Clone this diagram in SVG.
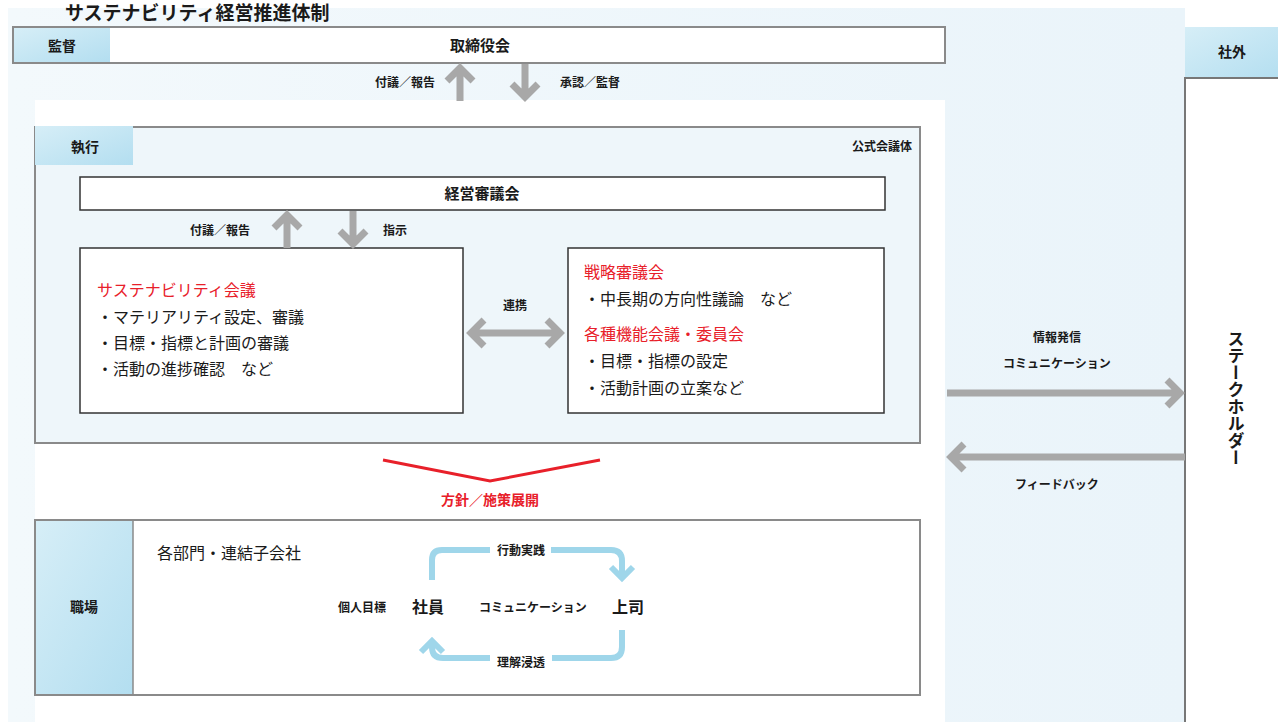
<svg xmlns="http://www.w3.org/2000/svg" width="1278" height="722" viewBox="0 0 1278 722">
<style>
text{font-family:"Noto Sans CJK JP","Noto Sans CJK SC",sans-serif;fill:#1a1a1a}
.b{font-weight:bold}
.s{font-size:12px}
.m{font-size:16px}
.r{fill:#e8202a}
.box{fill:#fff;stroke:#333;stroke-width:1.5}
.frame{stroke:#8a8a8a;stroke-width:2}
.ga{fill:none;stroke:#a8a8a8;stroke-width:7}
.ca{fill:none;stroke:#9fd6ea;stroke-width:6}
</style>
<defs>
<linearGradient id="lab" x1="0" y1="0" x2="1" y2="1">
<stop offset="0" stop-color="#d6eef7"/>
<stop offset="1" stop-color="#b3def0"/>
</linearGradient>
<linearGradient id="pan" x1="0" y1="0" x2="1" y2="0">
<stop offset="0" stop-color="#f3f9fc"/>
<stop offset="1" stop-color="#eaf4fa"/>
</linearGradient>
</defs>
<rect width="1278" height="722" fill="#fff"/>
<rect x="8" y="8" width="1177" height="714" fill="url(#pan)"/>
<rect x="35" y="100" width="910" height="622" fill="#fff"/>
<text x="65" y="20" class="b" font-size="19">サステナビリティ経営推進体制</text>

<g id="kantoku">
<rect x="13" y="27" width="932" height="36" class="frame" fill="#fff"/>
<rect x="14" y="28" width="96" height="34" fill="url(#lab)"/>
<text x="62" y="51" class="b" font-size="14" text-anchor="middle">監督</text>
<text x="480" y="51" class="b" font-size="15" text-anchor="middle">取締役会</text>
</g>

<g id="shagai">
<rect x="1185" y="27" width="100" height="51" fill="url(#lab)"/>
<text x="1232" y="57" class="b" font-size="14" text-anchor="middle">社外</text>
<rect x="1185" y="78" width="100" height="650" fill="#fff" stroke="#777" stroke-width="2"/>
<text class="b" font-size="17" x="1236" y="330" style="writing-mode:vertical-rl;text-orientation:upright">ステークホルダー</text>
</g>

<g id="shikko">
<rect x="35" y="127" width="885" height="316" class="frame" fill="#eef6fa"/>
<rect x="35" y="126" width="98" height="39" fill="url(#lab)"/>
<text x="85" y="152" class="b" font-size="14" text-anchor="middle">執行</text>
<text x="912" y="151" class="b s" text-anchor="end">公式会議体</text>
</g>

<g id="keiei">
<rect x="80" y="177" width="805" height="33" class="box"/>
<text x="482" y="199" class="b" font-size="15" text-anchor="middle">経営審議会</text>
</g>

<g id="sustainability">
<rect x="80" y="248" width="383" height="165" class="box"/>
<text x="97" y="296" class="m r">サステナビリティ会議</text>
<text x="97" y="323" class="m">・マテリアリティ設定、審議</text>
<text x="97" y="349" class="m">・目標・指標と計画の審議</text>
<text x="97" y="375" class="m">・活動の進捗確認　など</text>
</g>

<g id="senryaku">
<rect x="568" y="248" width="316" height="165" class="box"/>
<text x="584" y="278" class="m r">戦略審議会</text>
<text x="584" y="305" class="m">・中長期の方向性議論　など</text>
<text x="584" y="340" class="m r">各種機能会議・委員会</text>
<text x="584" y="367" class="m">・目標・指標の設定</text>
<text x="584" y="394" class="m">・活動計画の立案など</text>
</g>

<g id="shokuba">
<rect x="35" y="520" width="885" height="175" class="frame" fill="#fff"/>
<rect x="36" y="521" width="97" height="173" fill="url(#lab)"/>
<line x1="133" y1="520" x2="133" y2="695" stroke="#8a8a8a" stroke-width="1.5"/>
<text x="84" y="612" class="b" font-size="14" text-anchor="middle">職場</text>
<text x="157" y="559" class="m">各部門・連結子会社</text>
<text x="362" y="612" class="b s" text-anchor="middle">個人目標</text>
<text x="428" y="613" class="b" font-size="16" text-anchor="middle">社員</text>
<text x="533" y="612" class="b s" text-anchor="middle">コミュニケーション</text>
<text x="628" y="613" class="b" font-size="16" text-anchor="middle">上司</text>
<text x="521" y="555" class="b s" text-anchor="middle">行動実践</text>
<text x="521" y="667" class="b s" text-anchor="middle">理解浸透</text>
</g>

<g id="connectors">
<path class="ga" d="M460,101 V68 M447,81 L460,68 L473,81"/>
<path class="ga" d="M525,64 V97 M512,84 L525,97 L538,84"/>
<text x="405" y="87" class="b s" text-anchor="middle">付議／報告</text>
<text x="590" y="87" class="b s" text-anchor="middle">承認／監督</text>

<path class="ga" d="M287,248 V215 M274,228 L287,215 L300,228"/>
<path class="ga" d="M353,211 V244 M340,231 L353,244 L366,231"/>
<text x="220" y="235" class="b s" text-anchor="middle">付議／報告</text>
<text x="395" y="235" class="b s" text-anchor="middle">指示</text>

<path class="ga" d="M471,333 H560 M484,320 L471,333 L484,346 M547,320 L560,333 L547,346"/>
<text x="515" y="310" class="b s" text-anchor="middle">連携</text>

<path class="ga" d="M947,393 H1180 M1167,380 L1180,393 L1167,406"/>
<path class="ga" d="M1185,457 H951 M964,444 L951,457 L964,470"/>
<text x="1057" y="342" class="b s" text-anchor="middle">情報発信</text>
<text x="1057" y="368" class="b s" text-anchor="middle">コミュニケーション</text>
<text x="1057" y="489" class="b s" text-anchor="middle">フィードバック</text>

<polyline points="383,460 490,481 600,460" fill="none" stroke="#e8202a" stroke-width="3"/>
<text x="490" y="505" class="b r" font-size="14" text-anchor="middle">方針／施策展開</text>

<path class="ca" d="M432,580 V560 Q432,550 442,550 H490 M551,550 H611 Q622,550 622,561 V578 M611,567 L622,578 L633,567"/>
<path class="ca" d="M622,630 V647 Q622,658 611,658 H552 M490,658 H443 Q432,658 432,647 V641 M421,652 L432,641 L443,652"/>
</g>
</svg>
